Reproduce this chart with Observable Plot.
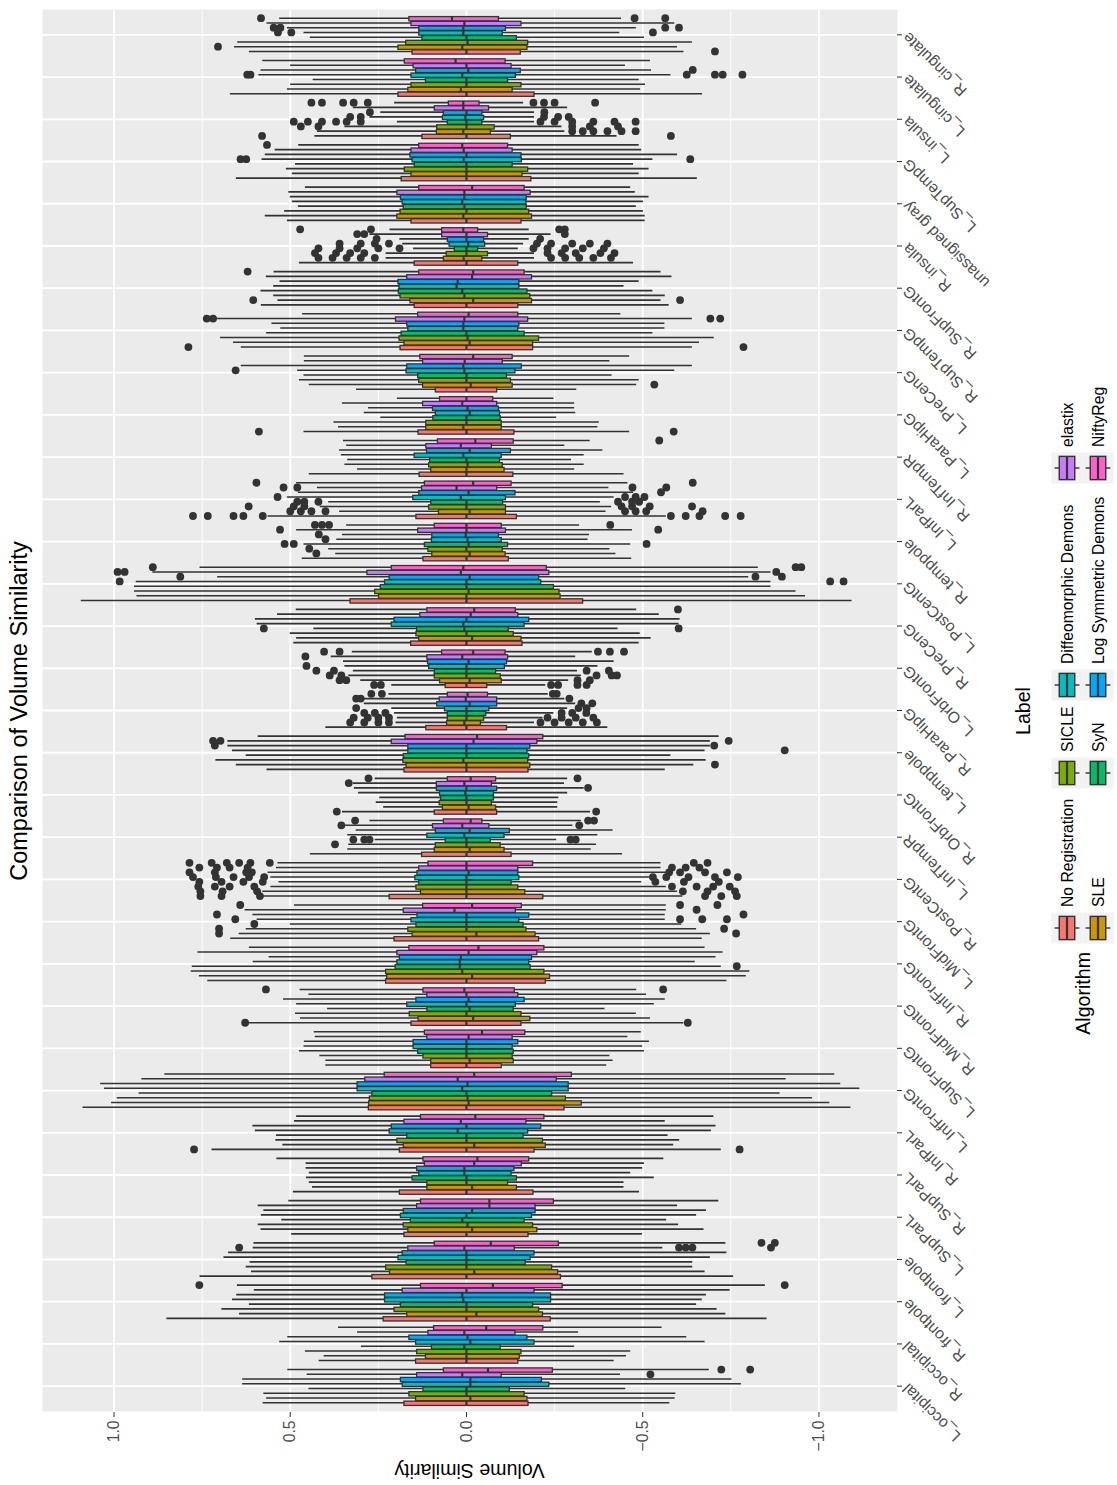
<!DOCTYPE html>
<html><head><meta charset="utf-8">
<script src="https://cdn.jsdelivr.net/npm/d3@7"></script>
<script src="https://cdn.jsdelivr.net/npm/@observablehq/plot@0.6"></script>
<style>
html,body{margin:0;padding:0;overflow:hidden;background:#fff;}
#rot{position:absolute;left:0;top:0;width:1485px;height:1117px;transform-origin:0 0;transform:translate(0px,1485px) rotate(-90deg);background:#fff;font-family:"Liberation Sans",Arial,Helvetica,sans-serif;}
#plot{position:absolute;left:0;top:0;width:1485px;}
#overlay{position:absolute;left:0;top:0;}
</style></head>
<body><div id="rot"><div id="plot"></div><svg id="overlay" width="1485" height="1117"></svg></div>
<script>
const titleText = "Comparison of Volume Similarity";
const xTitle = "Label";
const yTitle = "Volume Similarity";
const legendTitle = "Algorithm";

const labels = ["L_occipital","R_occipital","R_frontpole","L_frontpole","L_SupParL","R_SupParL","R_InfParL","L_InfFrontG","L_SupFrontG","R_MidFrontG","R_InfFrontG","L_MidFrontG","R_PostCentG","L_InfTempR","R_OrbFrontG","L_temppole","R_ParaHipG","L_OrbFrontG","R_PreCenG","L_PostCentG","R_temppole","L_InfParL","R_InfTempR","L_ParaHipG","L_PreCenG","R_SupTempG","R_SupFrontG","R_insula","unassigned gray","L_SupTempG","L_insula","L_cingulate","R_cingulate"];

const algorithms = ["No Registration","SLE","SICLE","SyN","Diffeomorphic Demons","Log Symmetric Demons","elastix","NiftyReg"];

const palette = ["#F8766D","#CD9600","#7CAE00","#00BE67","#00BFC4","#00A9FF","#C77CFF","#FF61CC"];

const valueTicks = [-1, -0.5, 0, 0.5, 1];
const valueMinorTicks = [-0.75, -0.25, 0.25, 0.75];

// per label, per algorithm (order of `algorithms`)
const whiskerHigh = [
[.577,.567,.575,.447,.635,.635,.452,.507],
[.418,.404,.457,.298,.530,.507,.309,.363],
[.850,.644,.694,.616,.664,.652,.602,.650],
[.756,.610,.625,.614,.688,.675,.605,.603],
[.496,.583,.591,.524,.582,.575,.591,.504],
[.491,.437,.446,.454,.446,.455,.455,.538],
[.722,.521,.541,.539,.599,.606,.488,.482],
[1.088,1.007,.991,.929,1.027,1.038,.921,.856],
[.399,.399,.416,.474,.461,.460,.429,.432],
[.617,.471,.485,.394,.482,.519,.447,.472],
[.734,.758,.781,.778,.605,.560,.762,.616],
[.669,.645,.625,.500,.594,.606,.628,.488],
[.578,.578,.555,.532,.555,.563,.539,.535],
[.443,.337,.334,.259,.337,.313,.345,.274],
[.352,.235,.256,.246,.306,.318,.321,.259],
[.566,.653,.711,.625,.664,.677,.677,.591],
[.399,.200,.196,.204,.212,.290,.290,.220],
[.212,.300,.334,.321,.345,.349,.384,.324],
[.490,.482,.500,.433,.594,.599,.536,.483],
[1.093,.935,.942,.942,.937,.706,.890,.756],
[.466,.371,.391,.461,.368,.352,.482,.340],
[.563,.360,.415,.391,.508,.477,.423,.482],
[.446,.309,.345,.337,.355,.360,.340,.349],
[.461,.363,.376,.243,.290,.278,.352,.196],
[.312,.446,.474,.461,.479,.639,.460,.460],
[.639,.661,.698,.567,.527,.552,.711,.465],
[.582,.535,.547,.583,.547,.529,.568,.546],
[.474,.228,.228,.150,.181,.189,.274,.217],
[.508,.571,.516,.477,.494,.500,.504,.457],
[.653,.494,.511,.485,.580,.571,.543,.476],
[.430,.423,.345,.196,.274,.243,.321,.204],
[.670,.508,.499,.435,.589,.583,.499,.578],
[.616,.658,.649,.443,.461,.508,.566,.530]
];

const upperQuartile = [
[.176,.143,.162,.122,.181,.186,.140,.064],
[.143,.115,.140,.098,.143,.162,.108,.092],
[.235,.168,.204,.186,.231,.231,.181,.129],
[.267,.217,.228,.170,.193,.181,.165,.090],
[.176,.165,.178,.158,.186,.178,.140,.129],
[.189,.111,.111,.153,.134,.140,.118,.122],
[.189,.178,.196,.168,.218,.212,.176,.129],
[.277,.276,.274,.267,.309,.309,.287,.232],
[.100,.100,.122,.137,.150,.150,.111,.118],
[.156,.136,.161,.111,.168,.142,.111,.122],
[.228,.225,.228,.201,.196,.189,.196,.162],
[.204,.153,.165,.142,.156,.139,.178,.123],
[.218,.129,.142,.134,.145,.139,.134,.108],
[.126,.090,.087,.059,.111,.087,.095,.064],
[.090,.067,.076,.072,.075,.084,.084,.053],
[.176,.170,.179,.178,.165,.165,.212,.173],
[.114,.055,.053,.053,.061,.083,.076,.053],
[.059,.075,.090,.090,.106,.109,.111,.069],
[.157,.134,.142,.140,.212,.204,.131,.111],
[.329,.248,.259,.243,.231,.218,.281,.212],
[.122,.097,.108,.118,.098,.097,.137,.090],
[.142,.078,.106,.100,.151,.134,.126,.118],
[.133,.100,.106,.103,.147,.112,.114,.081],
[.136,.114,.114,.094,.087,.095,.123,.075],
[.087,.123,.134,.137,.170,.168,.123,.131],
[.187,.176,.190,.184,.165,.168,.200,.137],
[.147,.159,.187,.192,.190,.193,.168,.134],
[.147,.064,.056,.033,.048,.053,.069,.069],
[.156,.196,.187,.178,.181,.186,.196,.134],
[.184,.156,.175,.147,.153,.159,.156,.134],
[.125,.084,.083,.053,.067,.064,.090,.050],
[.193,.165,.156,.115,.156,.143,.150,.175],
[.153,.193,.171,.125,.134,.134,.156,.162]
];

const medians = [
[0,-.011,0,0,-.011,-.011,.012,-.061],
[0,0,0,.006,-.011,-.003,.006,-.056],
[0,-.028,0,0,.009,.012,0,-.075],
[0,-.022,0,0,0,0,.006,-.069],
[0,-.016,-.003,.012,0,-.016,-.065,-.065],
[0,-.016,0,0,.006,.006,-.022,-.031],
[0,-.022,0,0,.025,0,.016,-.025],
[0,-.006,-.003,0,.012,-.003,.025,-.022],
[0,-.009,0,0,0,0,-.006,-.044],
[0,-.019,0,-.009,0,-.006,0,.006],
[0,-.016,.012,.019,.019,.016,-.006,-.034],
[0,-.028,0,0,0,0,.034,-.016],
[0,0,0,0,0,-.006,0,0],
[0,-.009,0,0,.006,-.009,.012,-.012],
[0,-.006,0,0,.003,0,.006,-.012],
[0,0,.009,0,0,0,-.020,-.030],
[0,.006,0,0,0,-.009,.002,-.003],
[0,-.009,0,0,0,-.006,.012,-.019],
[0,-.016,0,.006,.009,0,-.012,-.022],
[0,0,-.006,0,0,-.009,.016,.009],
[0,-.009,0,-.006,-.003,.002,0,0],
[0,-.009,0,0,.016,-.006,.028,-.019],
[0,0,-.003,0,.009,-.009,.016,-.025],
[0,.009,0,0,-.009,-.003,.012,0],
[0,-.012,0,0,.006,.009,.005,-.019],
[0,-.009,-.003,0,.009,.009,.006,-.006],
[0,-.019,.006,.012,.028,.025,-.016,-.019],
[0,.008,0,0,-.005,0,0,.009],
[0,.009,0,.006,.012,.006,.006,-.016],
[0,0,0,0,.008,0,.008,.012],
[0,.009,0,0,.003,0,.009,.009],
[0,.016,0,0,.012,-.005,0,.031],
[0,.012,-.003,0,.009,.009,.006,.041]
];

const lowerQuartile = [
[-.176,-.173,-.165,-.123,-.235,-.214,-.100,-.245],
[-.147,-.151,-.156,-.097,-.193,-.173,-.139,-.218],
[-.239,-.217,-.206,-.189,-.240,-.240,-.193,-.273],
[-.268,-.260,-.243,-.168,-.182,-.193,-.137,-.262],
[-.176,-.201,-.189,-.165,-.186,-.196,-.196,-.248],
[-.190,-.143,-.118,-.143,-.128,-.136,-.157,-.178],
[-.193,-.225,-.217,-.162,-.175,-.212,-.170,-.221],
[-.278,-.327,-.282,-.243,-.290,-.290,-.256,-.299],
[-.100,-.134,-.131,-.134,-.131,-.147,-.131,-.167],
[-.156,-.181,-.156,-.134,-.140,-.165,-.147,-.137],
[-.225,-.237,-.221,-.182,-.178,-.186,-.201,-.221],
[-.206,-.196,-.170,-.162,-.150,-.178,-.140,-.157],
[-.218,-.167,-.147,-.128,-.150,-.147,-.147,-.189],
[-.128,-.108,-.097,-.069,-.108,-.123,-.065,-.045],
[-.087,-.084,-.072,-.078,-.078,-.087,-.072,-.084],
[-.176,-.181,-.175,-.178,-.173,-.181,-.201,-.218],
[-.115,-.041,-.050,-.056,-.065,-.087,-.087,-.061],
[-.059,-.100,-.097,-.084,-.109,-.115,-.118,-.111],
[-.159,-.156,-.134,-.120,-.165,-.178,-.147,-.140],
[-.331,-.267,-.264,-.248,-.212,-.206,-.235,-.228],
[-.120,-.111,-.103,-.118,-.100,-.092,-.112,-.100],
[-.143,-.112,-.112,-.104,-.112,-.139,-.087,-.128],
[-.133,-.108,-.103,-.095,-.100,-.126,-.072,-.134],
[-.136,-.100,-.100,-.097,-.095,-.092,-.087,-.076],
[-.087,-.131,-.126,-.115,-.139,-.157,-.103,-.131],
[-.189,-.189,-.206,-.165,-.147,-.150,-.175,-.147],
[-.147,-.186,-.181,-.173,-.150,-.150,-.186,-.165],
[-.147,-.045,-.061,-.033,-.053,-.050,-.061,-.033],
[-.156,-.186,-.178,-.171,-.170,-.171,-.182,-.165],
[-.184,-.159,-.175,-.131,-.157,-.156,-.131,-.118],
[-.126,-.069,-.080,-.045,-.050,-.045,-.064,-.037],
[-.193,-.131,-.156,-.118,-.140,-.154,-.128,-.111],
[-.154,-.173,-.175,-.143,-.103,-.112,-.156,-.092]
];

const whiskerLow = [
[-.577,-.592,-.594,-.452,-.780,-.753,-.437,-.689],
[-.419,-.454,-.466,-.307,-.677,-.625,-.318,-.555],
[-.853,-.736,-.711,-.653,-.669,-.681,-.748,-.848],
[-.758,-.677,-.642,-.642,-.692,-.739,-.557,-.736],
[-.499,-.674,-.602,-.568,-.653,-.681,-.599,-.716],
[-.491,-.447,-.447,-.533,-.466,-.500,-.505,-.560],
[-.723,-.588,-.605,-.572,-.695,-.708,-.564,-.702],
[-1.091,-1.031,-.982,-.890,-1.116,-1.062,-.907,-1.045],
[-.398,-.416,-.407,-.505,-.500,-.519,-.458,-.496],
[-.617,-.522,-.482,-.393,-.533,-.564,-.511,-.483],
[-.739,-.794,-.804,-.723,-.649,-.708,-.728,-.677],
[-.669,-.692,-.653,-.611,-.564,-.564,-.567,-.567],
[-.614,-.599,-.567,-.497,-.521,-.567,-.552,-.552],
[-.443,-.354,-.369,-.256,-.373,-.416,-.302,-.326],
[-.352,-.259,-.259,-.262,-.287,-.334,-.278,-.287],
[-.564,-.645,-.680,-.580,-.677,-.692,-.692,-.717],
[-.401,-.193,-.217,-.248,-.287,-.310,-.279,-.232],
[-.225,-.290,-.326,-.315,-.373,-.419,-.310,-.357],
[-.490,-.524,-.493,-.430,-.603,-.606,-.547,-.483],
[-1.094,-.962,-.935,-.864,-.864,-.801,-.864,-.828],
[-.469,-.424,-.407,-.466,-.345,-.349,-.471,-.321],
[-.567,-.396,-.412,-.380,-.419,-.474,-.404,-.458],
[-.447,-.307,-.334,-.298,-.334,-.387,-.279,-.351],
[-.463,-.373,-.377,-.256,-.310,-.307,-.307,-.248],
[-.313,-.483,-.490,-.413,-.591,-.641,-.407,-.463],
[-.641,-.661,-.703,-.529,-.563,-.563,-.641,-.438],
[-.575,-.552,-.564,-.529,-.447,-.490,-.583,-.552],
[-.474,-.193,-.193,-.147,-.162,-.178,-.240,-.178],
[-.507,-.507,-.502,-.482,-.502,-.518,-.479,-.466],
[-.655,-.490,-.518,-.474,-.529,-.599,-.497,-.490],
[-.427,-.279,-.271,-.193,-.193,-.193,-.287,-.162],
[-.670,-.494,-.508,-.490,-.580,-.525,-.451,-.522],
[-.617,-.599,-.641,-.505,-.435,-.482,-.591,-.440]
];

// [label, algorithm index, outlier values]
const outliers = [
["L_occipital",7,[-.723,-.805]],
["L_occipital",6,[-.522]],
["R_frontpole",7,[.758,-.903]],
["L_frontpole",7,[-.837,-.875]],
["L_frontpole",6,[.645,-.603,-.622,-.641,-.864]],
["R_InfParL",0,[.773,-.775]],
["R_MidFrontG",0,[.628,-.628]],
["R_MidFrontG",7,[.569,-.558]],
["R_InfFrontG",3,[-.767]],
["L_MidFrontG",7,[.642,-.606,-.712]],
["L_MidFrontG",6,[-.653]],
["L_MidFrontG",5,[.708,-.786]],
["L_MidFrontG",4,[.656,-.606,-.669,-.739]],
["L_MidFrontG",3,[.602]],
["L_MidFrontG",2,[.702,-.731]],
["L_MidFrontG",1,[.702,-.765]],
["R_PostCentG",7,[.786,.723,.680,.645,.613,.558,-.645,-.684]],
["R_PostCentG",6,[.758,.708,.672,.621,-.583,-.622,-.661]],
["R_PostCentG",5,[.786,.714,.625,.609,-.575,-.606,-.677,-.739]],
["R_PostCentG",4,[.776,.711,.661,.617,.574,-.529,-.567,-.630,-.705,-.770]],
["R_PostCentG",3,[.758,.695,.633,.578,-.536,-.617,-.716]],
["R_PostCentG",2,[.761,.714,.672,.602,-.583,-.653,-.700,-.747]],
["R_PostCentG",1,[.755,.692,.594,-.614,-.684,-.762]],
["R_PostCentG",0,[.755,.695,.586,-.677,-.723,-.767]],
["L_InfTempR",2,[.373]],
["L_InfTempR",3,[.321,.290,.275,-.295,-.310]],
["L_InfTempR",6,[.355,-.320]],
["L_InfTempR",7,[.316,-.345,-.362]],
["R_OrbFrontG",0,[.368,-.368]],
["R_OrbFrontG",5,[-.345]],
["R_OrbFrontG",6,[.334]],
["R_OrbFrontG",7,[.278,-.315]],
["L_temppole",1,[-.705]],
["L_temppole",4,[-.903]],
["L_temppole",5,[.714,-.703]],
["L_temppole",6,[.719,.698,-.744]],
["R_ParaHipG",1,[.33,.29,.25,.22,-.21,-.25,-.29,-.33,-.37]],
["R_ParaHipG",2,[.32,.28,.25,.22,-.23,-.27,-.31,-.36]],
["R_ParaHipG",3,[.29,.26,.23,-.27,-.30,-.34]],
["R_ParaHipG",4,[.313,-.318,-.341]],
["R_ParaHipG",5,[-.326,-.357]],
["R_ParaHipG",6,[.313,.300,-.292]],
["R_ParaHipG",7,[.270,.240,-.245,-.256]],
["L_OrbFrontG",0,[.262,.243,-.240,-.260,-.315,-.341]],
["L_OrbFrontG",1,[.341,.36,-.315,-.35]],
["L_OrbFrontG",2,[.388,.355,-.369,-.412,-.427]],
["L_OrbFrontG",3,[.426,.376,-.341,-.404]],
["L_OrbFrontG",4,[.454]],
["L_OrbFrontG",6,[.457]],
["L_OrbFrontG",7,[.404,.360,-.373,-.407,-.447]],
["R_PreCenG",3,[.575,-.602]],
["R_PreCenG",7,[-.600]],
["L_PostCentG",4,[.984,-1.032,-1.070]],
["L_PostCentG",5,[.812,-.82,-.895]],
["L_PostCentG",6,[.97,.99,-.879]],
["L_PostCentG",7,[.890,-.934,-.950]],
["R_temppole",1,[.426]],
["R_temppole",2,[.446]],
["R_temppole",3,[.516,.490,-.511]],
["R_temppole",4,[.40]],
["R_temppole",5,[.419]],
["R_temppole",6,[.529,-.544]],
["R_temppole",7,[.43,.41,.39,-.408]],
["L_InfParL",0,[.776,.734,.661,.633,.578,-.580,-.622,-.661,-.734,-.778]],
["L_InfParL",1,[.50,.47,.44,.40,-.45,-.48,-.51,-.67]],
["L_InfParL",2,[.618,.49,.46,-.44,-.47,-.52,-.64]],
["L_InfParL",3,[.48,.46,.42,-.43,-.47,-.49]],
["L_InfParL",4,[.536,-.45,-.48,-.505]],
["L_InfParL",5,[-.552]],
["L_InfParL",6,[.519,.480,-.471,-.567]],
["L_InfParL",7,[.596,-.642]],
["R_InfTempR",7,[-.547]],
["L_ParaHipG",0,[.589,-.588]],
["L_PreCenG",1,[-.533]],
["L_PreCenG",4,[.655]],
["R_SupTempG",0,[.789,-.786]],
["R_SupTempG",6,[.737,.719,-.692,-.720]],
["R_SupFrontG",1,[.605,-.606]],
["R_SupFrontG",7,[.621]],
["R_insula",1,[.42,.38,.34,.30,.26,-.24,-.28,-.32,-.36,-.41]],
["R_insula",2,[.43,.37,.33,.29,-.23,-.27,-.31,-.38,-.42]],
["R_insula",3,[.42,.36,.31,.25,.19,-.19,-.23,-.28,-.33,-.39]],
["R_insula",4,[.36,.30,.26,.22,-.20,-.24,-.30,-.35,-.40]],
["R_insula",5,[.255,-.209]],
["R_insula",6,[.31,.29,-.279]],
["R_insula",7,[.472,.271,-.263,-.279]],
["L_SupTempG",4,[.641,.625,-.635]],
["L_SupTempG",7,[.566]],
["L_insula",0,[.580,-.580]],
["L_insula",1,[-.30,-.33,-.36,-.40,-.44,-.48]],
["L_insula",2,[.47,.42,-.30,-.35,-.43]],
["L_insula",3,[.49,.45,.41,.37,.34,.30,-.21,-.25,-.30,-.36,-.42,-.48]],
["L_insula",4,[.33,.30,-.22,-.26,-.29]],
["L_insula",5,[.274,-.221]],
["L_insula",7,[.44,.41,.35,.32,.28,-.19,-.22,-.25,-.365]],
["L_cingulate",4,[.622,.613,-.625,-.705,-.727,-.783]],
["L_cingulate",5,[-.642]],
["R_cingulate",0,[-.705]],
["R_cingulate",1,[.705]],
["R_cingulate",4,[.535,.497,-.529]],
["R_cingulate",5,[.547,.528,-.564,-.603]],
["R_cingulate",7,[.583,-.477,-.564]]
];

// ---------- layout (unrotated frame 1485 x 1117, then rotated -90deg) ----------
const FONT = '"Liberation Sans", Arial, Helvetica, sans-serif';
const W = 1485, PH = 1000;
const panelLeft = 73, panelRight = 1475, panelTop = 42, panelBottom = 897;
const nAlg = algorithms.length;
const dodgeWidth = 0.9, slot = dodgeWidth / nAlg, boxHalf = slot * 0.9 / 2;
const center = (li, a) => li + 1 - dodgeWidth / 2 + (a + 0.5) * slot;

const rows = labels.flatMap((lab, i) => algorithms.map((alg, a) => ({
  label: lab, alg, xc: center(i, a),
  lo: whiskerLow[i][a], q1: lowerQuartile[i][a], med: medians[i][a],
  q3: upperQuartile[i][a], hi: whiskerHigh[i][a]
})));
const outRows = outliers.flatMap(([lab, a, vals]) => vals.map(v => ({
  label: lab, alg: algorithms[a], xc: center(labels.indexOf(lab), a), value: v
})));
const labelTicks = d3.range(1, labels.length + 1);

const chart = Plot.plot({
  width: W, height: PH,
  marginLeft: panelLeft, marginRight: W - panelRight, marginTop: panelTop, marginBottom: PH - panelBottom,
  style: {fontFamily: FONT, fontSize: "15.7px", background: "transparent", overflow: "visible"},
  x: {type: "linear", domain: [0.4, labels.length + 0.6]},
  y: {domain: [-1.223, 1.203]},
  color: {domain: algorithms, range: palette},
  marks: [
    Plot.frame({fill: "#EBEBEB", stroke: null}),
    Plot.gridY(valueMinorTicks, {stroke: "#FFFFFF", strokeOpacity: 1, strokeWidth: 0.9}),
    Plot.gridY(valueTicks, {stroke: "#FFFFFF", strokeOpacity: 1, strokeWidth: 1.8}),
    Plot.gridX(labelTicks, {stroke: "#FFFFFF", strokeOpacity: 1, strokeWidth: 1.8}),
    Plot.ruleX(rows, {x: "xc", y1: "lo", y2: "hi", stroke: "#333333", strokeWidth: 1.6}),
    Plot.rect(rows, {x1: d => d.xc - boxHalf, x2: d => d.xc + boxHalf, y1: "q1", y2: "q3", fill: "alg", stroke: "#333333", strokeWidth: 1.3}),
    Plot.ruleY(rows, {y: "med", x1: d => d.xc - boxHalf, x2: d => d.xc + boxHalf, stroke: "#333333", strokeWidth: 2.2}),
    Plot.dot(outRows, {x: "xc", y: "value", r: 3.9, fill: "#333333", stroke: null}),
    Plot.axisY(valueTicks, {tickFormat: d3.format(".1f"), tickSize: 5, tickPadding: 4, fill: "#4D4D4D", stroke: "#333333", label: null}),
    Plot.axisX(labelTicks, {tickFormat: i => labels[i - 1], tickRotate: -45, tickSize: 5, tickPadding: 3, textAnchor: "end", fill: "#4D4D4D", stroke: "#333333", label: null})
  ]
});
document.getElementById("plot").appendChild(chart);

// ---------- titles and legend ----------
const svg = d3.select("#overlay").style("font-family", FONT);
const cx = (panelLeft + panelRight) / 2;
svg.append("text").attr("x", cx).attr("y", 27).attr("text-anchor", "middle")
  .attr("font-size", 23.5).attr("fill", "#000").text(titleText);
svg.append("text").attr("transform", `translate(21,${(panelTop + panelBottom) / 2}) rotate(-90)`)
  .attr("text-anchor", "middle").attr("font-size", 19.6).attr("fill", "#000").text(yTitle);
svg.append("text").attr("x", cx).attr("y", 1030).attr("text-anchor", "middle")
  .attr("font-size", 19.6).attr("fill", "#000").text(xTitle);

const keySize = 31;
const colX = [557, 712, 800, 1017];
const rowY = [1067, 1098];
svg.append("text").attr("x", 533).attr("y", (rowY[0] + rowY[1]) / 2).attr("text-anchor", "end")
  .attr("dominant-baseline", "central").attr("font-size", 19.6).attr("fill", "#000").text(legendTitle);
algorithms.forEach((alg, a) => {
  const kx = colX[Math.floor(a / 2)], ky = rowY[a % 2];
  const g = svg.append("g").attr("transform", `translate(${kx - keySize / 2},${ky - keySize / 2})`);
  g.append("rect").attr("width", keySize).attr("height", keySize).attr("fill", "#F2F2F2");
  const s = keySize;
  g.append("line").attr("x1", s / 2).attr("x2", s / 2).attr("y1", 0.1 * s).attr("y2", 0.9 * s)
    .attr("stroke", "#333333").attr("stroke-width", 1.4);
  g.append("rect").attr("x", 0.125 * s).attr("y", 0.25 * s).attr("width", 0.75 * s).attr("height", 0.5 * s)
    .attr("fill", palette[a]).attr("stroke", "#333333").attr("stroke-width", 1.4);
  g.append("line").attr("x1", 0.125 * s).attr("x2", 0.875 * s).attr("y1", s / 2).attr("y2", s / 2)
    .attr("stroke", "#333333").attr("stroke-width", 2.2);
  svg.append("text").attr("x", kx + keySize / 2 + 5.5).attr("y", ky).attr("dominant-baseline", "central")
    .attr("font-size", 15.7).attr("fill", "#000").text(alg);
});
</script></body></html>
